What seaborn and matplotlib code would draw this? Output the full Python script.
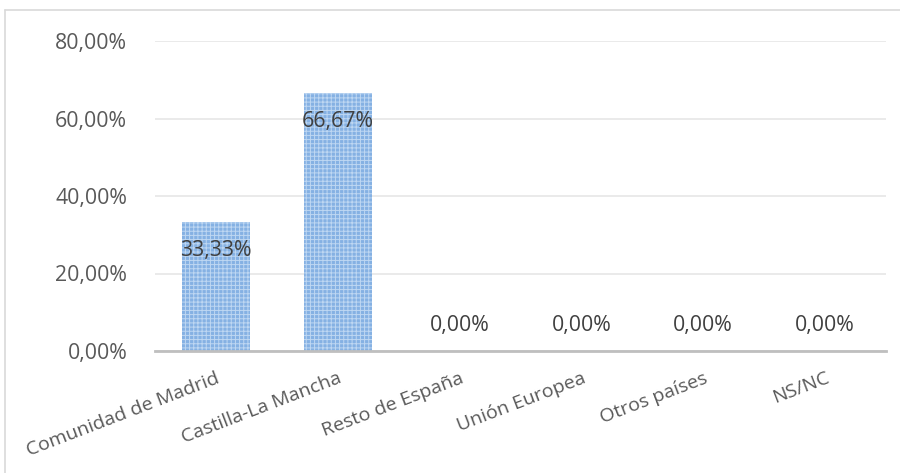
import matplotlib
matplotlib.use("Agg")
import matplotlib.pyplot as plt
import seaborn as sns
import pandas as pd
from matplotlib.ticker import FuncFormatter
from matplotlib.lines import Line2D

categories = ["Comunidad de Madrid", "Castilla-La Mancha", "Resto de España",
              "Unión Europea", "Otros países", "NS/NC"]
values = [0.3333, 0.6667, 0.0, 0.0, 0.0, 0.0]
value_labels = ["33,33%", "66,67%", "0,00%", "0,00%", "0,00%", "0,00%"]
y_ticks = [0.0, 0.2, 0.4, 0.6, 0.8]

sns.set_theme(style="white")
plt.rcParams['font.family'] = ['Open Sans', 'DejaVu Sans']
plt.rcParams['hatch.linewidth'] = 0.7

df = pd.DataFrame({"cat": categories, "val": values})

fig = plt.figure(figsize=(9, 4.73), dpi=100)
ax = fig.add_axes([155/900, 1 - 351/473, (886-155)/900, (351-41)/473])

sns.barplot(data=df, x="cat", y="val", ax=ax, color="#85B1E3", width=0.56,
            saturation=1)
for p in ax.patches:
    p.set_hatch("++++")
    p.set_edgecolor("#BED7F2")
    p.set_linewidth(0)

ax.set_xlim(-0.5, len(categories) - 0.5)
ax.set_ylim(0, 0.8)
ax.set_yticks(y_ticks)
ax.yaxis.set_major_formatter(FuncFormatter(lambda v, pos: f"{v*100:.2f}%".replace(".", ",")))
ax.grid(axis="y", color="#E6E6E6", linewidth=1.2)
ax.set_axisbelow(True)
ax.set_xlabel("")
ax.set_ylabel("")
for s in ["top", "right", "left"]:
    ax.spines[s].set_visible(False)
ax.spines["bottom"].set_color("#BFBFBF")
ax.spines["bottom"].set_linewidth(2)

ax.tick_params(axis="y", length=0, pad=20, labelsize=15.3, labelcolor="#595959")
ax.tick_params(axis="x", length=0, pad=13, labelsize=14, labelcolor="#595959")
for lbl in ax.get_xticklabels():
    lbl.set_rotation(21)
    lbl.set_ha("right")
    lbl.set_va("top")
    lbl.set_rotation_mode("anchor")

for i, (v, t) in enumerate(zip(values, value_labels)):
    off = -20.5 if v > 0 else 18
    ax.annotate(t, (i, v), xytext=(0, off), textcoords="offset points",
                ha="center", va="center", fontsize=15.3, color="#404040")

# chart border
fig.add_artist(Line2D([5/900, 1.0], [1 - 10/473, 1 - 10/473], transform=fig.transFigure,
                      color="#D9D9D9", linewidth=1.2))
fig.add_artist(Line2D([5/900, 5/900], [0, 1 - 10/473], transform=fig.transFigure,
                      color="#D9D9D9", linewidth=1.2))

fig.savefig("out.png", dpi=100)
